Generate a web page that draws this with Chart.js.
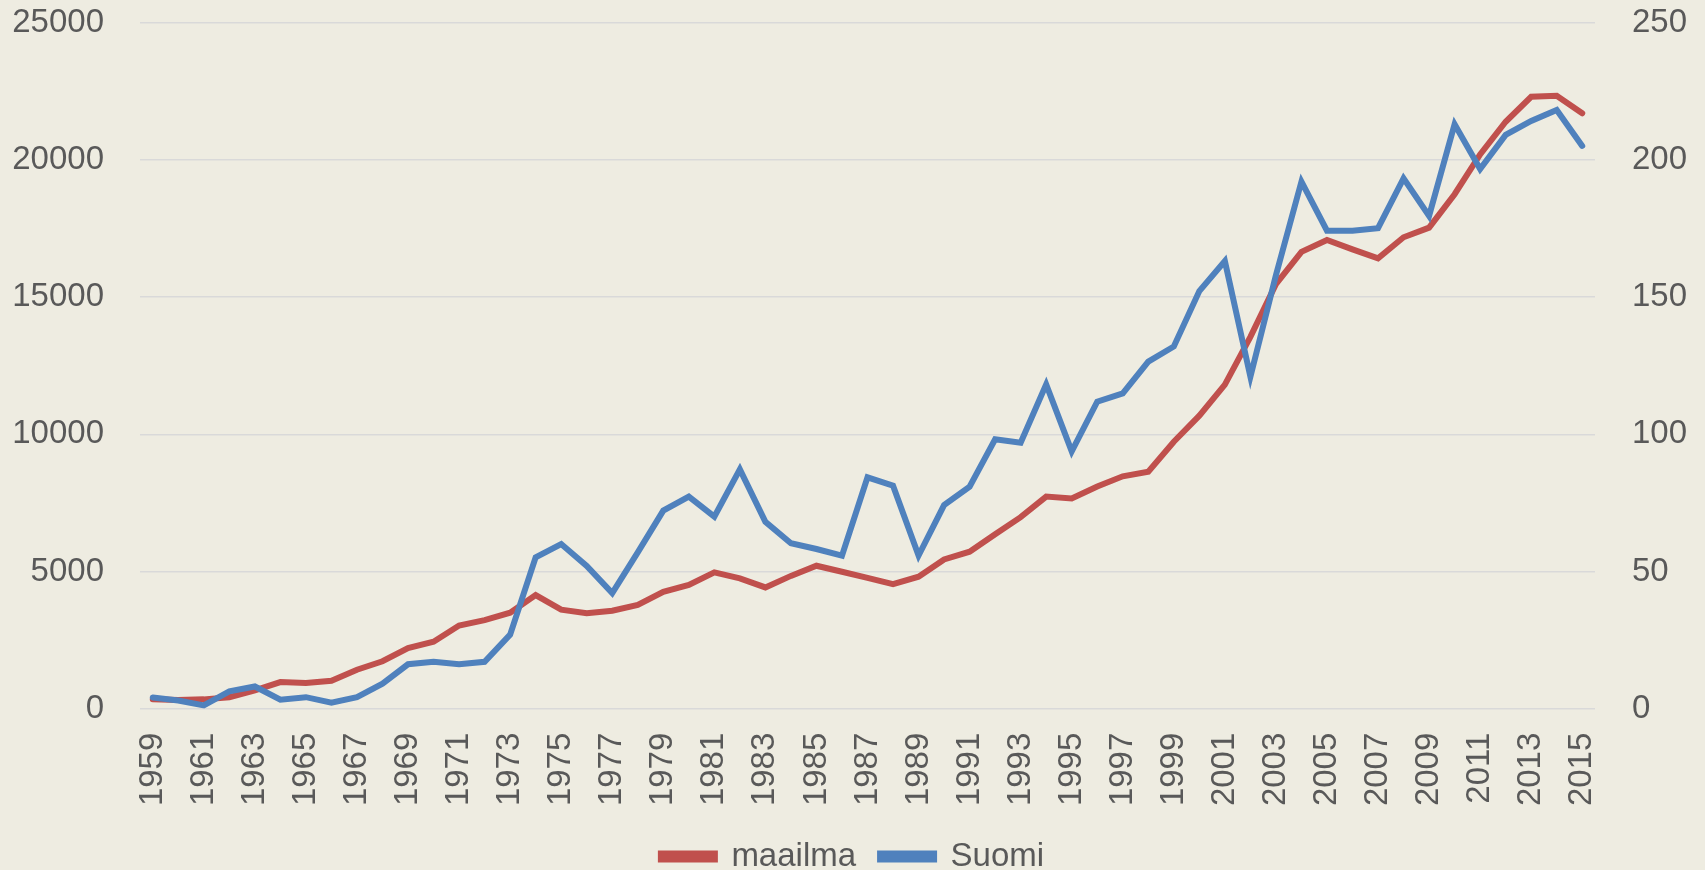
<!DOCTYPE html>
<html>
<head>
<meta charset="utf-8">
<title>maailma / Suomi</title>
<script src="https://cdn.jsdelivr.net/npm/chart.js@4/dist/chart.umd.min.js"></script>
<style>
  html, body { margin: 0; padding: 0; background: #eeece1; overflow: hidden; }
  #wrap { width: 1705px; height: 883px; position: relative; }
</style>
</head>
<body>
<div id="wrap"><canvas id="chart"></canvas></div>
<script>
// years on the category axis, one point per year
const years = [
  1959, 1960, 1961, 1962, 1963, 1964, 1965, 1966, 1967, 1968,
  1969, 1970, 1971, 1972, 1973, 1974, 1975, 1976, 1977, 1978,
  1979, 1980, 1981, 1982, 1983, 1984, 1985, 1986, 1987, 1988,
  1989, 1990, 1991, 1992, 1993, 1994, 1995, 1996, 1997, 1998,
  1999, 2000, 2001, 2002, 2003, 2004, 2005, 2006, 2007, 2008,
  2009, 2010, 2011, 2012, 2013, 2014, 2015,
];

// left axis
const maailma = [
  340, 320, 340, 420, 670, 970, 940, 1020, 1420, 1730,
  2210, 2440, 3030, 3230, 3500, 4140, 3610, 3480, 3570, 3780,
  4260, 4510, 4970, 4750, 4420, 4840, 5210, 4990, 4770, 4540,
  4810, 5440, 5720, 6360, 6980, 7730, 7660, 8100, 8470, 8640,
  9730, 10680, 11810, 13550, 15470, 16650, 17080, 16740, 16410, 17180,
  17530, 18750, 20200, 21390, 22300, 22340, 21700,
];

// right axis
const suomi = [
  4.1, 3.0, 1.2, 6.3, 8.1, 3.3, 4.2, 2.2, 4.2, 9.1,
  16.2, 17.1, 16.2, 17.1, 27.0, 55.2, 60.0, 52.0, 42.1, 57.0,
  72.2, 77.3, 70.0, 87.2, 68.1, 60.3, 58.2, 55.8, 84.3, 81.3,
  55.8, 74.2, 80.9, 98.2, 96.9, 118.2, 93.8, 111.9, 114.9, 126.5,
  132.0, 152.2, 163.1, 121.0, 158.0, 192.1, 174.2, 174.2, 175.1, 193.3,
  179.6, 213.0, 196.7, 209.1, 214.2, 218.2, 205.1,
];

const leftTicks = [0, 5000, 10000, 15000, 20000, 25000];
const rightTicks = [0, 50, 100, 150, 200, 250];

const txt = "#595959";
const font = { family: "'Liberation Sans', Arial, sans-serif", size: 33 };

const $ = (id) => document.getElementById(id);

// y axes: keep the plot top fixed, labels may stick out above it
const noPad = (s) => { s.paddingTop = 0; s.paddingBottom = 0; };

new Chart($("chart"), {
  type: "line",
  data: {
    labels: years.map(String),
    datasets: [
      {
        label: "maailma",
        data: maailma,
        yAxisID: "y",
        borderColor: "#c0504d",
        backgroundColor: "#c0504d",
        borderWidth: 6,
        pointRadius: 0,
        tension: 0,
        borderCapStyle: "round",
        order: 1,
      },
      {
        label: "Suomi",
        data: suomi,
        yAxisID: "y2",
        borderColor: "#4f81bd",
        backgroundColor: "#4f81bd",
        borderWidth: 6,
        pointRadius: 0,
        tension: 0,
        borderCapStyle: "round",
        order: 0, // drawn on top, like the second series in the original
      },
    ],
  },
  options: {
    responsive: true,
    maintainAspectRatio: false,
    animation: false,
    layout: { padding: { top: 22.7, left: 0, right: 0, bottom: 0 } },
    plugins: {
      tooltip: { enabled: false },
      legend: {
        position: "bottom",
        labels: {
          color: txt,
          font: font,
          padding: 24,
          boxWidth: 54,
          boxHeight: 6,
          sort: (a, b) => a.datasetIndex - b.datasetIndex,
        },
      },
    },
    scales: {
      x: {
        type: "category",
        offset: true,
        grid: { display: false, drawTicks: false },
        border: { display: false },
        ticks: {
          color: txt,
          font: font,
          autoSkip: false,
          minRotation: 90,
          maxRotation: 90,
          padding: 24,
          callback: (v, i) => (i % 2 === 0 ? String(years[i]) : ""),
        },
        afterFit: (s) => { s.height = 107.3; },
      },
      y: {
        position: "left",
        min: leftTicks[0],
        max: leftTicks[leftTicks.length - 1],
        afterBuildTicks: (s) => { s.ticks = leftTicks.map((v) => ({ value: v })); },
        grid: { color: "#d9d9d9", lineWidth: 1.5, drawTicks: false },
        border: { display: false },
        ticks: { color: txt, font: font, padding: 36, callback: (v) => String(v) },
        afterFit: (s) => { s.width = 140; noPad(s); },
      },
      y2: {
        position: "right",
        min: rightTicks[0],
        max: rightTicks[rightTicks.length - 1],
        afterBuildTicks: (s) => { s.ticks = rightTicks.map((v) => ({ value: v })); },
        grid: { display: false, drawTicks: false },
        border: { display: false },
        ticks: { color: txt, font: font, padding: 37, callback: (v) => String(v) },
        afterFit: (s) => { s.width = 110; noPad(s); },
      },
    },
  },
});
</script>
</body>
</html>
